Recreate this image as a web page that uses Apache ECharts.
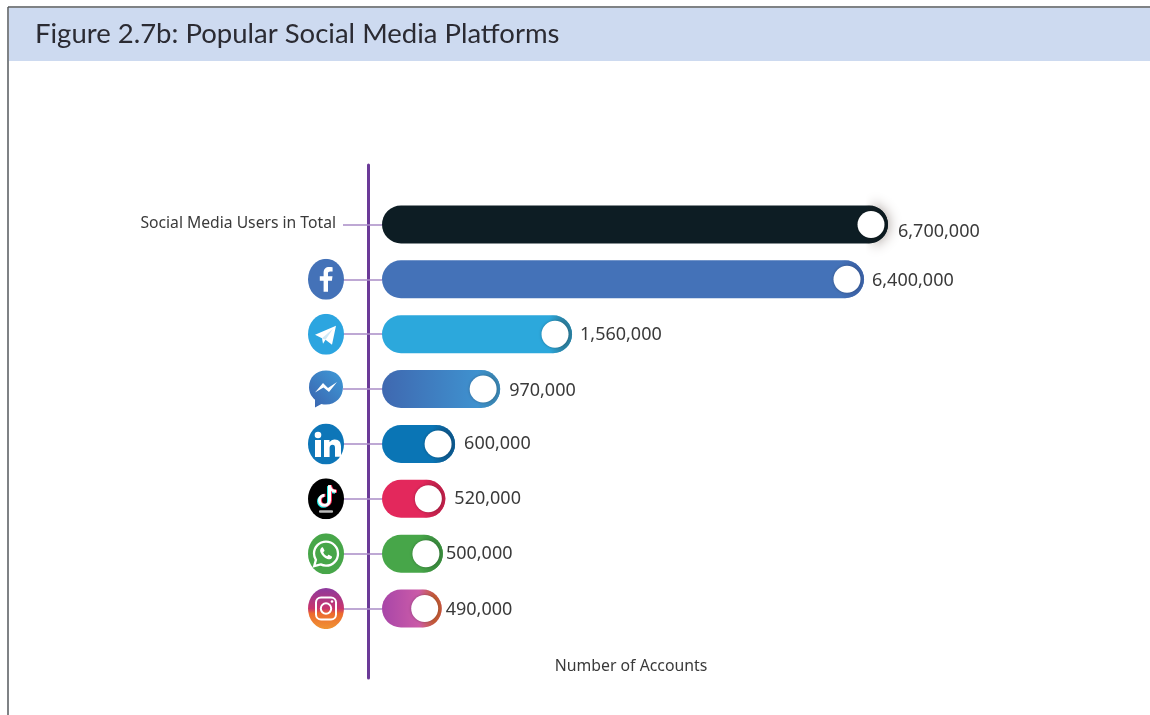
<!DOCTYPE html>
<html>
<head>
<meta charset="utf-8">
<title>Popular Social Media Platforms</title>
<style>
  html, body { margin: 0; padding: 0; background: #fff; }
  #chart { width: 1150px; height: 715px; }
</style>
<script src="https://cdn.jsdelivr.net/npm/echarts@6/dist/echarts.min.js"></script>
</head>
<body>
<div id="chart"></div>
<script>
// Chart values
const titleText = 'Figure 2.7b: Popular Social Media Platforms';
const axisTitle = 'Number of Accounts';
const categories = ['Social Media Users in Total', 'Facebook', 'Telegram', 'Messenger', 'LinkedIn', 'TikTok', 'WhatsApp', 'Instagram'];
const accounts = [6700000, 6400000, 1560000, 970000, 600000, 520000, 500000, 490000];

// Per-row styling: bar fill stops, toggle rim colour, label nudges [dx, dy]
const barStops = [
  ['#0d1d24', '#0d1d24'],
  ['#4472b8', '#4472b8'],
  ['#2ca8dc', '#2ca8dc'],
  ['#3f68b0', '#3f9bd6'],
  ['#0a75b5', '#0a75b5'],
  ['#e3285c', '#e3285c'],
  ['#47a649', '#47a649'],
  ['#a846a8', '#e068a8']
];
const rimColors = ['#0b1a20', '#3c63a8', '#2b7f9f', '#3a86b4', '#0d5a90', '#c02049', '#3a8c3e', '#c25a34'];
const labelNudges = [[2, 7], [0, 2], [0, 1], [1, 2], [1, 0], [1, 0], [-5, 0], [-4, 1]];

// Icons are plain SVG drawn into a 36x41 oval badge
function svgUri(body) {
  return 'data:image/svg+xml;charset=utf-8,' + encodeURIComponent(
    '<svg xmlns="http://www.w3.org/2000/svg" width="36" height="41" viewBox="0 0 36 41">' + body + '</svg>');
}
const badge = fill => `<ellipse cx="18" cy="20.5" rx="18" ry="20.5" fill="${fill}"/>`;
const icons = {
  Facebook: svgUri(badge('#4472b8') +
    '<path d="M20 33V22h3.9l.6-4.6H20v-2.6c0-1.4.5-2.2 2.2-2.2h2.4V8.4c-.6-.1-1.9-.2-3.4-.2-3.4 0-5.6 2-5.6 5.8v3.4h-3.8V22h3.8v11z" fill="#fff"/>'),
  Telegram: svgUri(badge('#2ca5e0') +
    '<path d="M7 21 L28 12 L24 31 L17.5 26 L15 30 L14 24.5 Z" fill="#fff"/><path d="M14 24.5 L25 15 L17.5 26" fill="#cfe8f5"/>'),
  Messenger: svgUri(
    '<defs><linearGradient id="m" x1="0" y1="1" x2="1" y2="0"><stop offset="0" stop-color="#3a62ad"/><stop offset="1" stop-color="#3f9bd8"/></linearGradient></defs>' +
    '<path d="M18 2C8 2 1 9 1 18.5c0 5.3 2.3 9.6 6 12.6V39l6.4-3.6c1.5.4 3 .6 4.6.6 10 0 17-7.500 17-17.500S28 2 18 2z" fill="url(#m)"/>' +
    '<path d="M7 24 L15 14.500 L20 19.500 L29 13.500 L21 23.500 L15.500 19 Z" fill="#fff"/>'),
  LinkedIn: svgUri(badge('#0d76b8') +
    '<circle cx="10" cy="11.500" r="3.300" fill="#fff"/><rect x="7" y="16.500" width="6" height="17" fill="#fff"/>' +
    '<path d="M16 16.500h5.500v2.400c1-1.700 3-2.900 5.200-2.900 4.600 0 6.300 3 6.300 7.400v10h-6V24.500c0-2-.7-3.200-2.500-3.200-2 0-2.900 1.400-2.900 3.300v8.900H16z" fill="#fff"/>'),
  TikTok: svgUri(badge('#000') +
    '<g fill="none" stroke-width="3"><path d="M21.500 7v15a5 5 0 1 1-5-5" stroke="#25f4ee" transform="translate(-1,1)"/><path d="M21.500 7c.3 3.500 2.800 6 6.500 6" stroke="#25f4ee" transform="translate(-1,1)"/>' +
    '<path d="M21.500 7v15a5 5 0 1 1-5-5" stroke="#fe2c55" transform="translate(1,0)"/><path d="M21.500 7c.3 3.500 2.800 6 6.500 6" stroke="#fe2c55" transform="translate(1,0)"/>' +
    '<path d="M21.500 7v15a5 5 0 1 1-5-5" stroke="#fff"/><path d="M21.500 7c.3 3.500 2.800 6 6.500 6" stroke="#fff"/></g>' +
    '<rect x="11" y="32" width="14" height="2.500" rx="1" fill="#bbb"/>'),
  WhatsApp: svgUri(badge('#47a649') +
    '<path d="M18 8.500c-6.800 0-12 5.300-12 11.800 0 2.400.7 4.500 1.900 6.400L6.200 33l6.400-1.800c1.700.9 3.500 1.300 5.400 1.300 6.800 0 12-5.400 12-12S24.800 8.500 18 8.500z" fill="none" stroke="#fff" stroke-width="2.300"/>' +
    '<path d="M13.500 14.500c-1.500 1-1.800 3-.8 5 1.300 2.900 3.700 5.200 6.600 6.300 1.900.7 3.700.3 4.600-1.200.3-.6.300-1.100 0-1.400l-2.700-1.500c-.4-.2-.7-.1-1 .2l-1 1.200c-1.800-.7-3.300-2.200-4-4l1-1c.3-.3.4-.7.200-1l-1.300-2.600c-.4-.4-1-.5-1.600 0z" fill="#fff"/>'),
  Instagram: svgUri(
    '<defs><linearGradient id="g" x1="0" y1="0" x2="0" y2="1"><stop offset="0" stop-color="#8d3a9e"/><stop offset=".5" stop-color="#c9346d"/><stop offset=".62" stop-color="#ec6a2e"/><stop offset="1" stop-color="#f09433"/></linearGradient></defs>' +
    '<ellipse cx="18" cy="20.500" rx="18" ry="20.500" fill="url(#g)"/>' +
    '<rect x="8" y="9.500" width="20" height="22" rx="5" fill="none" stroke="#fff" stroke-width="2"/>' +
    '<circle cx="18" cy="20.500" r="5.200" fill="none" stroke="#fff" stroke-width="2"/><circle cx="24" cy="13.500" r="1.300" fill="#fff"/>')
};

const iconRich = {
  txt: { fontFamily: 'Noto Sans', fontSize: 15.7, color: '#3a3a3a', padding: [0, 8, 1, 0] }
};
categories.slice(1).forEach(name => {
  iconRich[name] = { width: 36, height: 41, backgroundColor: { image: icons[name] } };
});

const chart = echarts.init(document.getElementById('chart'), null, { renderer: 'canvas' });

chart.setOption({
  animation: false,
  backgroundColor: '#fff',
  textStyle: { fontFamily: 'Noto Sans' },
  title: {
    text: titleText,
    left: 35,
    top: 20,
    padding: 0,
    textStyle: { fontFamily: 'Lato', fontSize: 27.5, fontWeight: 'normal', color: '#2b2b33' },
    z: 10
  },
  // Header band and the page rules along its top and left edges
  graphic: [
    { type: 'rect', z: 1, shape: { x: 9, y: 8, width: 1141, height: 53 }, style: { fill: '#cddaf0' } },
    { type: 'line', z: 2, shape: { x1: 8, y1: 7, x2: 1150, y2: 7 }, style: { stroke: '#55585c', lineWidth: 1.5 } },
    { type: 'line', z: 2, shape: { x1: 8, y1: 7, x2: 8, y2: 715 }, style: { stroke: '#55585c', lineWidth: 1.5 } }
  ],
  grid: [
    { left: 382, top: 197, width: 506, height: 439 },
    { left: 368, top: 165, width: 10, height: 513 }
  ],
  xAxis: [
    {
      type: 'value',
      gridIndex: 0,
      min: 0,
      max: 6700000,
      // The long bars are compressed, so the small platforms stay readable
      breaks: [
        { start: 1600000, end: 6300000, gap: 2257000 },
        { start: 6450000, end: 6650000, gap: 97000 }
      ],
      breakArea: { show: false },
      axisLine: { show: false },
      axisTick: { show: false },
      axisLabel: { show: false },
      splitLine: { show: false },
      name: axisTitle,
      nameLocation: 'middle',
      nameGap: 22,
      nameTextStyle: { fontFamily: 'Noto Sans', fontSize: 15.8, color: '#3a3a3a', padding: [0, 8, 0, 0] }
    },
    { type: 'value', gridIndex: 1, show: false }
  ],
  yAxis: [
    {
      type: 'category',
      gridIndex: 0,
      inverse: true,
      data: categories,
      axisLine: { show: false },
      axisTick: { show: true, alignWithLabel: true, length: 39, lineStyle: { color: '#a98cc6', width: 1.5 } },
      axisLabel: {
        margin: 38,
        rich: iconRich,
        formatter: name => icons[name] ? `{${name}|}` : `{txt|${name}}`
      },
      z: 3
    },
    {
      type: 'value',
      gridIndex: 1,
      axisLine: { show: true, onZero: false, lineStyle: { color: '#6b3a98', width: 3 } },
      axisTick: { show: false },
      axisLabel: { show: false },
      splitLine: { show: false }
    }
  ],
  series: [
    {
      type: 'bar',
      barWidth: 38,
      z: 4,
      xAxisIndex: 0,
      yAxisIndex: 0,
      data: accounts.map((value, i) => ({
        value,
        itemStyle: {
          borderRadius: 19,
          color: new echarts.graphic.LinearGradient(0, 0, 1, 0, [
            { offset: 0, color: barStops[i][0] },
            { offset: 1, color: barStops[i][1] }
          ])
        },
        label: {
          show: true,
          position: 'right',
          distance: 8,
          offset: labelNudges[i],
          fontFamily: 'Noto Sans',
          fontSize: 18,
          color: '#3a3a3a',
          formatter: () => value.toLocaleString('en-US')
        }
      }))
    },
    {
      // Rim that fades in toward the far end of each toggle
      type: 'scatter',
      z: 5,
      silent: true,
      xAxisIndex: 0,
      yAxisIndex: 0,
      symbol: 'circle',
      symbolSize: 38,
      symbolOffset: [-19, 0],
      data: accounts.map((value, i) => ({
        value: [value, categories[i]],
        itemStyle: {
          opacity: 1,
          color: new echarts.graphic.LinearGradient(0, 0, 1, 0, [
            { offset: 0.4, color: echarts.color.modifyAlpha(rimColors[i], 0) },
            { offset: 0.8, color: rimColors[i] }
          ]),
          shadowBlur: i === 0 ? 14 : 0,
          shadowColor: 'rgba(60,40,30,0.5)'
        }
      }))
    },
    {
      // White toggle knob
      type: 'scatter',
      z: 6,
      silent: true,
      xAxisIndex: 0,
      yAxisIndex: 0,
      symbol: 'circle',
      symbolSize: 27,
      symbolOffset: [-17, 0],
      itemStyle: { opacity: 1, color: '#fff', shadowBlur: 3, shadowColor: 'rgba(0,0,0,0.3)' },
      data: accounts.map((value, i) => [value, categories[i]])
    }
  ]
});
</script>
</body>
</html>
